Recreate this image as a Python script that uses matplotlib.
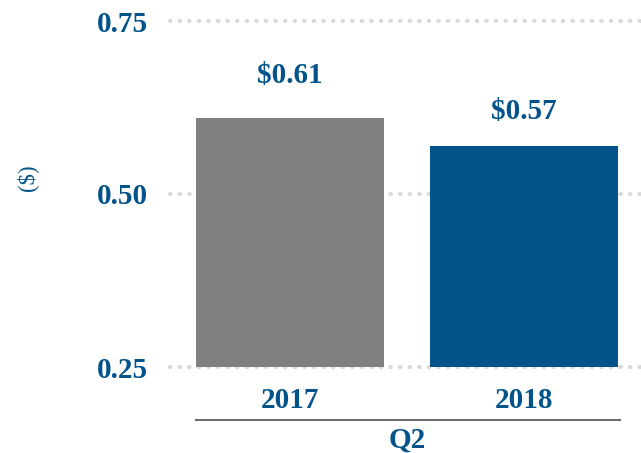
import matplotlib
matplotlib.use("Agg")
import matplotlib.pyplot as plt

categories = ["2017", "2018"]
values = [0.61, 0.57]
value_labels = ["$0.61", "$0.57"]
yticks = [0.25, 0.50, 0.75]
ytick_labels = ["0.25", "0.50", "0.75"]
group_label = "Q2"
ylabel = "($)"

BLUE = "#02538A"
GREY = "#808080"
bar_colors = [GREY, BLUE]
label_offsets = [0.061, 0.049]

plt.rcParams['font.family'] = ['Liberation Serif', 'DejaVu Serif']
FS = 21

fig = plt.figure(figsize=(6.41, 4.53), dpi=100)
ax = fig.add_axes([170/641, 86/453, 1 - 170/641, 346/453])

x = list(range(len(categories)))
base = yticks[0]
ax.bar(x, [v - base for v in values], bottom=base, width=0.8, color=bar_colors, zorder=3)

ax.set_ylim(0.25, 0.75)
ax.set_xlim(-0.513, 1.5)
ax.set_yticks(yticks)
ax.set_yticklabels(ytick_labels, fontsize=FS, fontweight='bold', color=BLUE)
ax.tick_params(axis='y', length=0, pad=16)
ax.set_xticks([])

for yv in yticks:
    ax.axhline(yv, color="#d9d9d9", linewidth=3, linestyle=(0, (0.1, 2.2)),
               dash_capstyle='round', zorder=1, clip_on=False)

for s in ax.spines.values():
    s.set_visible(False)

for xi, v, lab, off in zip(x, values, value_labels, label_offsets):
    ax.text(xi, v + off, lab, ha='center', va='center', fontsize=FS,
            fontweight='bold', color=BLUE)

trans = ax.get_xaxis_transform()
for xi, c in zip(x, categories):
    ax.text(xi, -0.098, c, transform=trans, ha='center', va='center',
            fontsize=FS, fontweight='bold', color=BLUE)

ax.plot([-0.4, 1.41], [-0.153, -0.153], transform=trans, color="#707070",
        linewidth=1.5, clip_on=False)
ax.text(0.5, -0.212, group_label, transform=trans, ha='center', va='center',
        fontsize=FS, fontweight='bold', color=BLUE)

fig.text(27/641, 1 - 178/453, ylabel, rotation=90, ha='center', va='center',
         fontsize=16.5, color=BLUE)

fig.savefig("out.png", dpi=100)
